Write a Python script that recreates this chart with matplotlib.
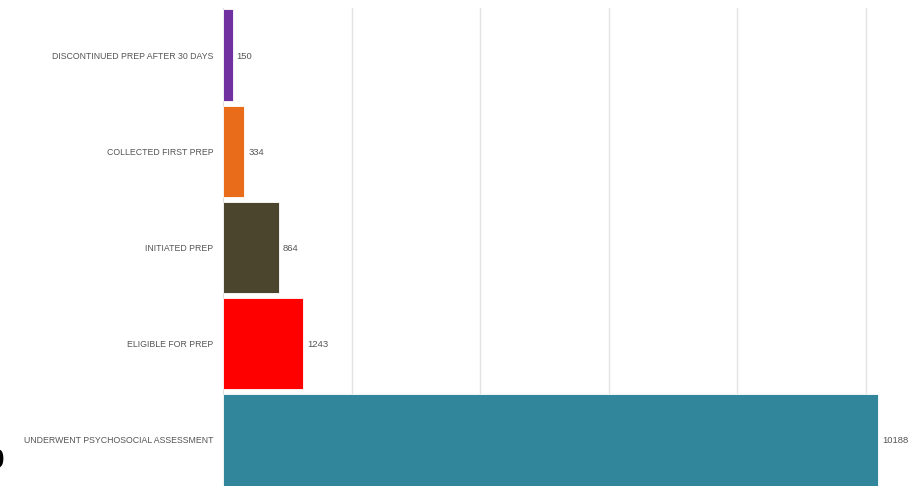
import matplotlib
matplotlib.use("Agg")
from matplotlib import pyplot as plt

categories = ["UNDERWENT PSYCHOSOCIAL ASSESSMENT", "ELIGIBLE FOR PREP",
              "INITIATED PREP", "COLLECTED FIRST PREP",
              "DISCONTINUED PREP AFTER 30 DAYS"]
values = [10188, 1243, 864, 334, 150]
colors = ["#31869B", "#FF0000", "#4B452E", "#E86C1A", "#7030A0"]

plt.rcParams['font.family'] = ['Liberation Sans', 'DejaVu Sans']

fig = plt.figure(figsize=(9.1, 4.86), dpi=100)
ax = fig.add_axes([223 / 910, 0.0, 1 - 223 / 910, 1 - 8 / 486])

y = range(len(categories))
ax.barh(y, values, height=0.95, color=colors, edgecolor="white", linewidth=0.6, zorder=3)
for i, v in enumerate(values):
    ax.text(v + 60, i - 0.01, str(v), va="center", ha="left", fontsize=6.8, color="#555555")

ax.set_yticks(list(y))
ax.set_yticklabels(categories, fontsize=6.3, color="#555555")
ax.tick_params(axis="y", length=0, pad=7)
ax.set_xticks([2000, 4000, 6000, 8000, 10000])
ax.tick_params(axis="x", length=0, labelbottom=False)
ax.set_xlim(0, 10684)
ax.set_ylim(-0.48, 4.49)
ax.grid(axis="x", color="#e2e2e2", linewidth=1, zorder=0)
for s in ["top", "right", "bottom"]:
    ax.spines[s].set_visible(False)
ax.spines["left"].set_color("#dddddd")

# cut-off glyph at left edge, as in the source image
fig.text(4 / 910, 1 - 461 / 486, "0", ha="right", va="center", fontsize=20,
         fontweight="bold", color="black")

plt.savefig("out.png", dpi=100)
